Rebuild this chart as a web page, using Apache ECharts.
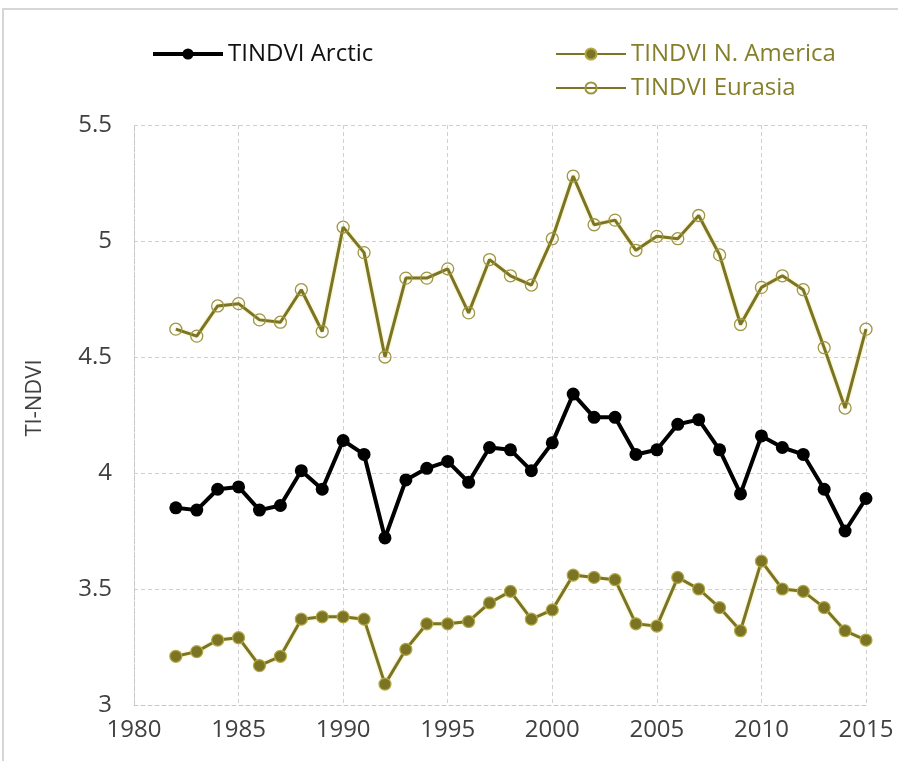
<!DOCTYPE html>
<html>
<head>
<meta charset="utf-8">
<script src="https://cdn.jsdelivr.net/npm/echarts@6/dist/echarts.min.js"></script>
<style>html,body{margin:0;padding:0;background:#fff;}#c{width:898px;height:761px;}</style>
</head>
<body>
<div id="c"></div>
<script>
const years = [1982,1983,1984,1985,1986,1987,1988,1989,1990,1991,1992,1993,1994,1995,1996,1997,1998,1999,2000,2001,2002,2003,2004,2005,2006,2007,2008,2009,2010,2011,2012,2013,2014,2015];
const arctic = [3.85,3.84,3.93,3.94,3.84,3.86,4.01,3.93,4.14,4.08,3.72,3.97,4.02,4.05,3.96,4.11,4.10,4.01,4.13,4.34,4.24,4.24,4.08,4.10,4.21,4.23,4.10,3.91,4.16,4.11,4.08,3.93,3.75,3.89];
const northAmerica = [3.21,3.23,3.28,3.29,3.17,3.21,3.37,3.38,3.38,3.37,3.09,3.24,3.35,3.35,3.36,3.44,3.49,3.37,3.41,3.56,3.55,3.54,3.35,3.34,3.55,3.50,3.42,3.32,3.62,3.50,3.49,3.42,3.32,3.28];
const eurasia = [4.62,4.59,4.72,4.73,4.66,4.65,4.79,4.61,5.06,4.95,4.50,4.84,4.84,4.88,4.69,4.92,4.85,4.81,5.01,5.28,5.07,5.09,4.96,5.02,5.01,5.11,4.94,4.64,4.80,4.85,4.79,4.54,4.28,4.62];
const seriesNames = ['TINDVI Arctic','TINDVI N. America','TINDVI Eurasia'];
const yAxisName = 'TI-NDVI';

const olive = '#7b7424';
const oliveText = '#857f2c';
const FONT = 'Open Sans';
const pair = (arr) => years.map((y,i)=>[y,arr[i]]);
const gridLine = {show:true, lineStyle:{color:'#cfcfcf', type:[4,3], width:1}};

const chart = echarts.init(document.getElementById('c'), null, {renderer:'canvas'});
chart.setOption({
  animation:false,
  backgroundColor:'#fff',
  graphic:[{type:'rect', shape:{x:3,y:9,width:1000,height:1000}, style:{fill:'none', stroke:'#d6d6d6', lineWidth:2}, silent:true}],
  grid:{left:134, right:32, top:125, bottom:56, containLabel:false},
  legend:[
    {data:[{name:seriesNames[0], textStyle:{color:'#111'}, lineStyle:{width:4}}], left:146, top:37, itemWidth:70, itemHeight:14,
     textStyle:{fontFamily:FONT, fontSize:24}},
    {data:[{name:seriesNames[1], textStyle:{color:oliveText}},{name:seriesNames[2], textStyle:{color:oliveText}}], orient:'vertical', left:550, top:37, itemWidth:70, itemHeight:14, itemGap:10,
     textStyle:{fontFamily:FONT, fontSize:24}}
  ],
  xAxis:{type:'value', min:1980, max:2015, interval:5,
    axisLine:{show:true, lineStyle:{color:'#c8c8c8', type:[4,3]}},
    axisTick:{show:false},
    splitLine:gridLine,
    axisLabel:{color:'#404040', fontFamily:FONT, fontSize:24, margin:13, formatter:v=>String(v)}},
  yAxis:{type:'value', min:3, max:5.5, interval:0.5,
    name:yAxisName, nameLocation:'middle', nameGap:88, nameRotate:90,
    nameTextStyle:{color:'#404040', fontFamily:FONT, fontSize:22, padding:[0,0,0,34]},
    axisLine:{show:true, lineStyle:{color:'#c8c8c8', type:[4,3]}},
    axisTick:{show:false},
    splitLine:gridLine,
    axisLabel:{color:'#404040', fontFamily:FONT, fontSize:24, margin:22, formatter:v=>String(v)}},
  series:[
    {name:seriesNames[0], type:'line', data:pair(arctic), symbol:'circle', symbolSize:13,
     lineStyle:{color:'#000', width:4}, itemStyle:{color:'#000'}, z:3},
    {name:seriesNames[1], type:'line', data:pair(northAmerica), symbol:'circle', symbolSize:12,
     lineStyle:{color:olive, width:3, shadowColor:'rgba(225,215,90,0.6)', shadowBlur:3}, itemStyle:{color:olive, borderColor:'#b3a843', borderWidth:1.2}, z:2},
    {name:seriesNames[2], type:'line', data:pair(eurasia), symbol:'circle', symbolSize:12,
     lineStyle:{color:olive, width:3, shadowColor:'rgba(225,215,90,0.6)', shadowBlur:3}, itemStyle:{color:'rgba(255,255,255,0)', borderColor:'#9e9545', borderWidth:1.3}, z:2}
  ]
});
</script>
</body>
</html>
